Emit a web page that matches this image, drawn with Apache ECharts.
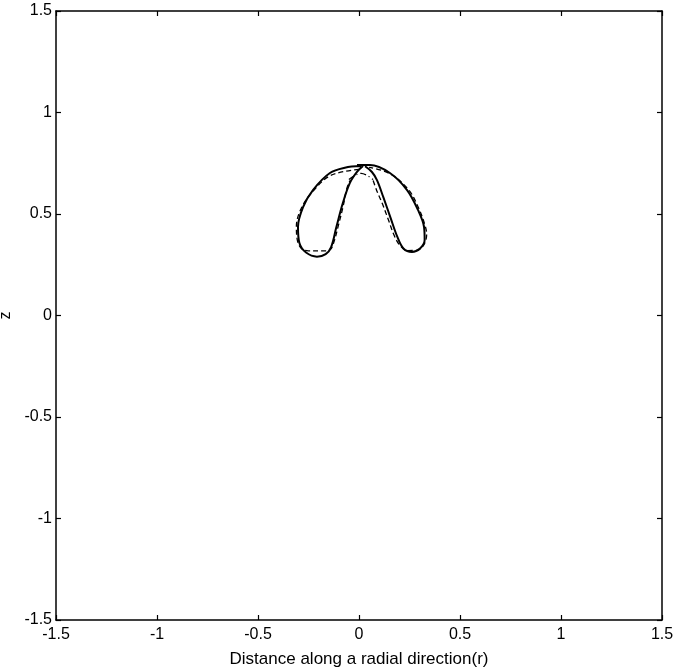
<!DOCTYPE html>
<html>
<head>
<meta charset="utf-8">
<script src="https://cdn.jsdelivr.net/npm/echarts@6/dist/echarts.min.js"></script>
<style>html,body{margin:0;padding:0;background:#fff}#c{width:675px;height:670px}</style>
</head>
<body>
<div id="c"></div>
<script>
const xTicks = [-1.5, -1, -0.5, 0, 0.5, 1, 1.5];
const yTicks = [-1.5, -1, -0.5, 0, 0.5, 1, 1.5];
const xTitle = 'Distance along a radial direction(r)';
const yTitle = 'z';

const solidLeft = [[0.01,0.736],[-0.07,0.728],[-0.144,0.702],[-0.228,0.618],[-0.277,0.534],[-0.302,0.436],[-0.295,0.357],[-0.262,0.31],[-0.208,0.29],[-0.165,0.302],[-0.138,0.337],[-0.112,0.436],[-0.08,0.554],[-0.045,0.653],[-0.01,0.707],[0.02,0.736]];
const solidRight = [[-0.01,0.741],[0.054,0.741],[0.153,0.702],[0.238,0.618],[0.292,0.52],[0.322,0.436],[0.325,0.372],[0.302,0.33],[0.262,0.313],[0.22,0.33],[0.19,0.387],[0.155,0.485],[0.12,0.584],[0.089,0.667],[0.064,0.707],[0.03,0.735]];
const dashLeft = [[0.0,0.72],[-0.14,0.69],[-0.23,0.61],[-0.285,0.53],[-0.31,0.44],[-0.305,0.37],[-0.285,0.33],[-0.25,0.318],[-0.19,0.318],[-0.145,0.322],[-0.125,0.36],[-0.103,0.44],[-0.078,0.54],[-0.062,0.62],[-0.045,0.665]];
const dashRight = [[0.07,0.665],[0.09,0.61],[0.116,0.55],[0.146,0.47],[0.176,0.39],[0.203,0.345],[0.24,0.32],[0.29,0.322],[0.322,0.35],[0.335,0.4],[0.325,0.45],[0.295,0.53],[0.245,0.62],[0.15,0.7],[0.05,0.73]];
const dashDotTop = [[-0.05,0.67],[-0.02,0.69],[0.01,0.70],[0.04,0.69],[0.07,0.67]];

const font = 'Liberation Sans, Arial, sans-serif';
const chart = echarts.init(document.getElementById('c'));
function line(data, type, w) {
  return {type:'line', data:data, showSymbol:false, smooth:0.35, xAxisIndex:0, yAxisIndex:0,
    lineStyle:{color:'#000', width:w, type:type}, animation:false};
}
const axisCommon = {min:-1.5, max:1.5, interval:0.5, splitLine:{show:false},
  axisLine:{onZero:false, lineStyle:{color:'#000', width:1.5}},
  axisTick:{inside:true, length:5, lineStyle:{color:'#000', width:1.2}}};
chart.setOption({
  backgroundColor:'#fff',
  animation:false,
  grid:{left:56, right:13, top:11, bottom:50, containLabel:false, outerBoundsMode:'none'},
  xAxis:[
    Object.assign({type:'value', position:'bottom', name:xTitle, nameLocation:'middle', nameGap:31,
      nameTextStyle:{color:'#000', fontSize:17, fontFamily:font},
      axisLabel:{color:'#000', fontSize:16, fontFamily:font, margin:7,
        formatter:v=>String(xTicks.find(t=>Math.abs(t-v)<1e-9) ?? v)}}, axisCommon),
    Object.assign({type:'value', position:'top', axisLabel:{show:false}}, axisCommon)
  ],
  yAxis:[
    Object.assign({type:'value', position:'left', name:yTitle, nameLocation:'middle', nameGap:36,
      nameTextStyle:{color:'#000', fontSize:16, fontFamily:font},
      axisLabel:{color:'#000', fontSize:16, fontFamily:font, margin:4,
        formatter:v=>String(yTicks.find(t=>Math.abs(t-v)<1e-9) ?? v)}}, axisCommon),
    Object.assign({type:'value', position:'right', axisLabel:{show:false}}, axisCommon)
  ],
  series:[
    line(solidLeft,'solid',2),
    line(solidRight,'solid',2),
    line(dashLeft,[5,3],1.3),
    line(dashRight,[5,3],1.3),
    line(dashDotTop,[6,3,1,3],1.3)
  ]
});
</script>
</body>
</html>
